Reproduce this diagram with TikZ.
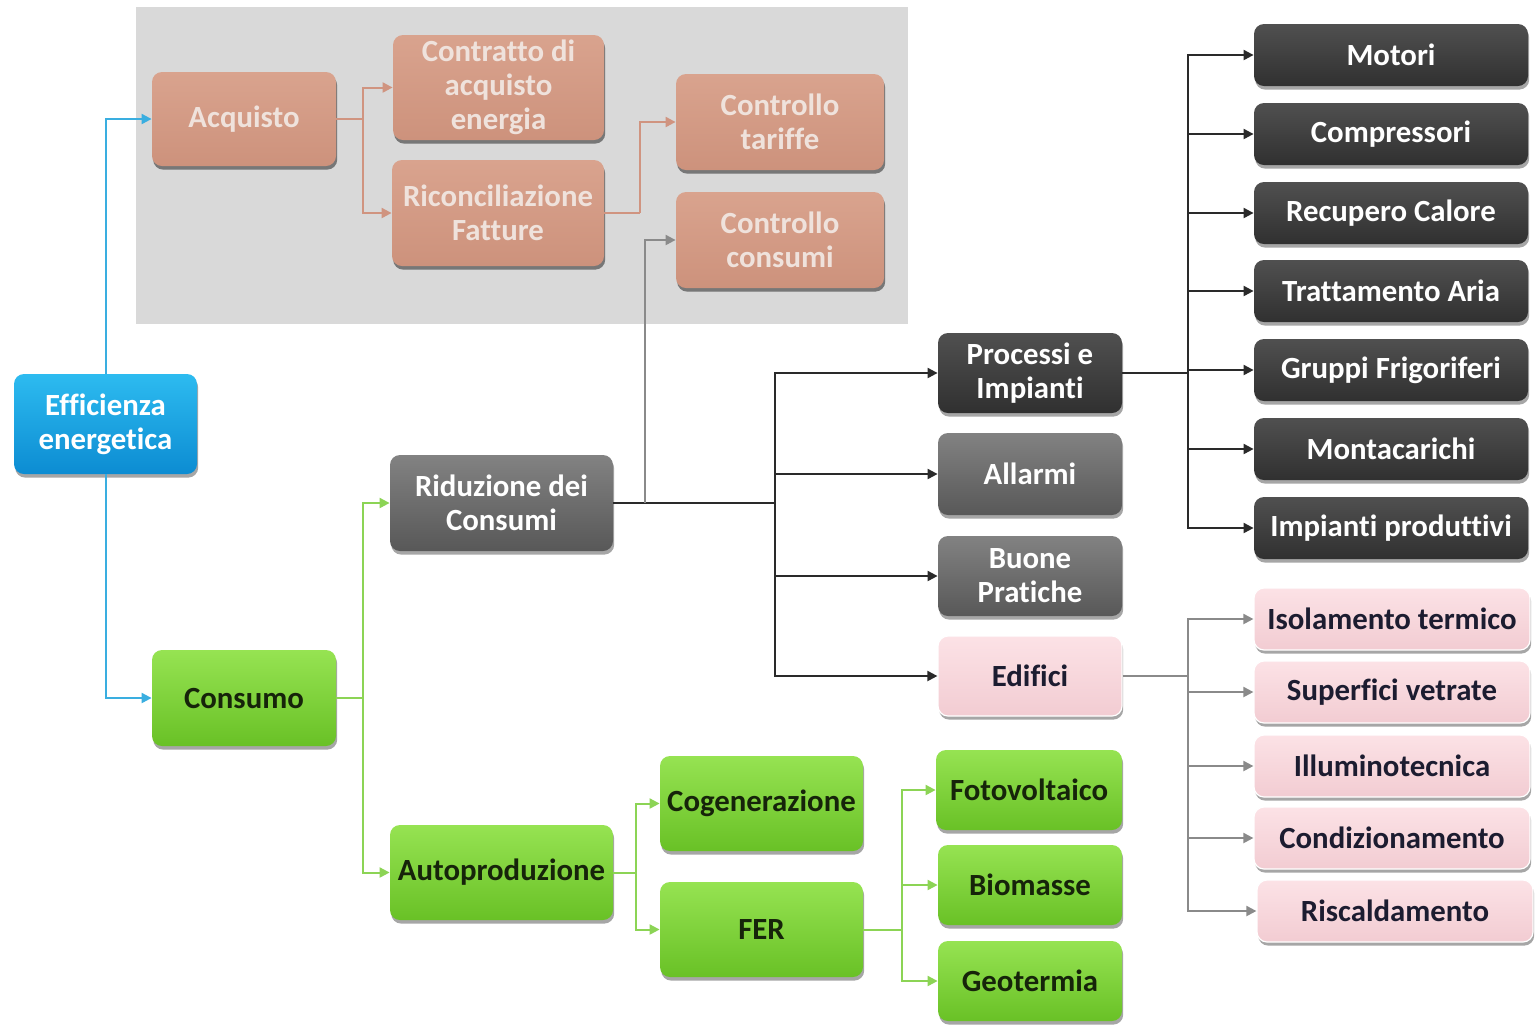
\documentclass[tikz,border=0pt]{standalone}
\usepackage{fontspec}
\setmainfont[Ligatures={NoCommon}]{Carlito}
\usetikzlibrary{arrows.meta,shadows}

\definecolor{panelgray}{HTML}{D9D9D9}
\definecolor{salmonT}{HTML}{D9A38E}
\definecolor{salmonB}{HTML}{CD927C}
\definecolor{salmonTxt}{HTML}{EFE2DC}
\definecolor{salmonLine}{HTML}{D09480}
\definecolor{blueT}{HTML}{2DBBF0}
\definecolor{blueB}{HTML}{0C8CD2}
\definecolor{blueLine}{HTML}{3AAEE0}
\definecolor{greenT}{HTML}{96E352}
\definecolor{greenB}{HTML}{69C126}
\definecolor{greenLine}{HTML}{8CD455}
\definecolor{greenTxt}{HTML}{16240A}
\definecolor{midT}{HTML}{828282}
\definecolor{midB}{HTML}{585858}
\definecolor{darkT}{HTML}{505050}
\definecolor{darkB}{HTML}{303030}
\definecolor{pinkT}{HTML}{FCE2E6}
\definecolor{pinkB}{HTML}{F2CCD2}
\definecolor{pinkTxt}{HTML}{1C1C30}
\definecolor{lineDark}{HTML}{2A2A2A}
\definecolor{lineGray}{HTML}{8A8A8A}

\begin{document}
\begin{tikzpicture}[x=0.5pt,y=-0.5pt,
  font=\bfseries\fontsize{15.4}{17}\selectfont,
  box/.style={rectangle, rounded corners=5pt, align=center, inner sep=0pt,
    drop shadow={shadow xshift=0.6pt, shadow yshift=-1.8pt, opacity=0.35, fill=black}},
  sz/.style 2 args={minimum width=#1*0.5pt, minimum height=#2*0.5pt},
  faded/.style={box, top color=salmonT, bottom color=salmonB, text=salmonTxt,
    drop shadow={shadow xshift=0.6pt, shadow yshift=-1.8pt, opacity=0.15, fill=black}},
  bluebox/.style={box, top color=blueT, bottom color=blueB, text=white},
  greenbox/.style={box, top color=greenT, bottom color=greenB, text=greenTxt},
  midbox/.style={box, top color=midT, bottom color=midB, text=white},
  darkbox/.style={box, top color=darkT, bottom color=darkB, text=white},
  pinkbox/.style={box, top color=pinkT, bottom color=pinkB, text=pinkTxt, draw=white, line width=0.6pt},
  tip/.style={-{Triangle[width=5pt,length=5pt]}},
  salmonlink/.style={tip, draw=salmonLine, line width=1pt},
  bluelink/.style={tip, draw=blueLine, line width=1pt},
  greenlink/.style={tip, draw=greenLine, line width=1pt},
  darklink/.style={tip, draw=lineDark, line width=1pt},
  graylink/.style={tip, draw=lineGray, line width=1pt},
]
\useasboundingbox (0,0) rectangle (1537,1030);
\fill[white] (0,0) rectangle (1537,1030);

% purchasing panel
\fill[panelgray] (136,7) rectangle (908,324);

% nodes
\node[faded, sz={184}{94}]  (acq)   at (244,119)   {Acquisto};
\node[faded, sz={211}{105}] (contr) at (498.5,87.5) {Contratto di\\acquisto\\energia};
\node[faded, sz={212}{106}] (ric)   at (498,213)   {Riconciliazione\\Fatture};
\node[faded, sz={208}{96}]  (ctar)  at (780,122)   {Controllo\\tariffe};
\node[faded, sz={208}{96}]  (ccons) at (780,240)   {Controllo\\consumi};

\node[bluebox, sz={183}{100}] (eff) at (105.5,424) {Efficienza\\energetica};
\node[greenbox, sz={184}{96}] (cons) at (244,698) {Consumo};
\node[midbox, sz={223}{96}] (rid) at (501.5,503) {Riduzione dei\\Consumi};

\node[darkbox, sz={184}{80}] (proc)  at (1030,373) {Processi e\\Impianti};
\node[midbox,  sz={184}{82}] (all)   at (1030,474) {Allarmi};
\node[midbox,  sz={184}{80}] (buone) at (1030,576) {Buone\\Pratiche};
\node[pinkbox, sz={184}{80}] (edif)  at (1030,676) {Edifici};

\node[darkbox, sz={274}{62}] (mot)  at (1391,55)  {Motori};
\node[darkbox, sz={274}{62}] (comp) at (1391,134) {Compressori};
\node[darkbox, sz={274}{62}] (rec)  at (1391,213) {Recupero Calore};
\node[darkbox, sz={274}{62}] (tra)  at (1391,291) {Trattamento Aria};
\node[darkbox, sz={274}{62}] (gru)  at (1391,370) {Gruppi Frigoriferi};
\node[darkbox, sz={274}{62}] (mon)  at (1391,449) {Montacarichi};
\node[darkbox, sz={274}{62}] (imp)  at (1391,528) {Impianti produttivi};

\node[pinkbox, sz={276}{62}] (iso)  at (1392,619) {Isolamento termico};
\node[pinkbox, sz={276}{62}] (sup)  at (1392,692) {Superfici vetrate};
\node[pinkbox, sz={276}{62}] (ill)  at (1392,766) {Illuminotecnica};
\node[pinkbox, sz={276}{62}] (cond) at (1392,838) {Condizionamento};
\node[pinkbox, sz={276}{62}] (risc) at (1395,911) {Riscaldamento};

\node[greenbox, sz={223}{95}] (auto) at (501.5,872.5) {Autoproduzione};
\node[greenbox, sz={203}{95}] (cog)  at (761.5,803.5) {Cogenerazione};
\node[greenbox, sz={203}{95}] (fer)  at (761.5,929.5) {FER};
\node[greenbox, sz={186}{80}] (foto) at (1029,790) {Fotovoltaico};
\node[greenbox, sz={184}{80}] (bio)  at (1030,885) {Biomasse};
\node[greenbox, sz={184}{80}] (geo)  at (1030,981) {Geotermia};

% junction points
\coordinate (jAcq)  at (363,119);
\coordinate (jRic)  at (640,213);
\coordinate (jCons) at (363,698);
\coordinate (jRidA) at (645,503);
\coordinate (jRid)  at (775,503);
\coordinate (jProc) at (1188,373);
\coordinate (jEdif) at (1188,676);
\coordinate (jAuto) at (636,872.5);
\coordinate (jFer)  at (902,929.5);

% purchasing branch
\draw[bluelink] (eff.north) |- (acq.west);
\draw[salmonLine, line width=1pt] (acq.east) -- (jAcq);
\draw[salmonlink] (jAcq) |- (contr.west);
\draw[salmonlink] (jAcq) |- (ric.west);
\draw[salmonLine, line width=1pt] (ric.east) -- (jRic);
\draw[salmonlink] (jRic) |- (ctar.west);

% consumption branch
\draw[bluelink] (eff.south) |- (cons.west);
\draw[greenLine, line width=1pt] (cons.east) -- (jCons);
\draw[greenlink] (jCons) |- (rid.west);
\draw[greenlink] (jCons) |- (auto.west);

% reduction branch
\draw[lineDark, line width=1.4pt] (rid.east) -- (jRid);
\draw[tip, draw=lineGray, line width=1pt] (jRidA) |- (ccons.west);
\draw[darklink] (jRid) |- (proc.west);
\draw[darklink] (jRid) |- (all.west);
\draw[darklink] (jRid) |- (buone.west);
\draw[darklink] (jRid) |- (edif.west);

\draw[lineDark, line width=1pt] (proc.east) -- (jProc);
\foreach \t in {mot,comp,rec,tra,gru,mon,imp}
  \draw[darklink] (jProc) |- (\t.west);

\draw[lineGray, line width=1pt] (edif.east) -- (jEdif);
\foreach \t in {iso,sup,ill,cond,risc}
  \draw[graylink] (jEdif) |- (\t.west);

% self-production branch
\draw[greenLine, line width=1pt] (auto.east) -- (jAuto);
\draw[greenlink] (jAuto) |- (cog.west);
\draw[greenlink] (jAuto) |- (fer.west);
\draw[greenLine, line width=1pt] (fer.east) -- (jFer);
\foreach \t in {foto,bio,geo}
  \draw[greenlink] (jFer) |- (\t.west);
\end{tikzpicture}
\end{document}
